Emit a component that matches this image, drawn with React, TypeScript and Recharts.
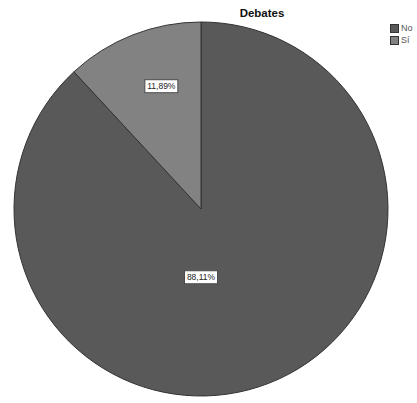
import { PieChart, Pie, Cell, Legend } from "recharts";

const categories = ["No", "Sí"];
const values = [88.11, 11.89];
const valueLabels = ["88,11%", "11,89%"];
const colors = ["#595959", "#828282"];

const data = categories.map((name, i) => ({ name, value: values[i], label: valueLabels[i] }));

const RADIAN = Math.PI / 180;

function renderLabel(props: any) {
  const { cx, cy, outerRadius, midAngle, index } = props;
  let x: number;
  let y: number;
  if (index === 0) {
    // big slice: label sits straight below the centre
    x = cx;
    y = cy + outerRadius * 0.365;
  } else {
    const r = outerRadius * 0.69;
    const a = (midAngle - 3.5) * RADIAN;
    x = cx + r * Math.cos(-a);
    y = cy + r * Math.sin(-a);
  }
  const w = 33;
  const h = 13;
  return (
    <g>
      <rect x={x - w / 2} y={y - h / 2} width={w} height={h} fill="#ffffff" stroke="#4a4a4a" strokeWidth={1} />
      <text x={x} y={y + 3} textAnchor="middle" fontSize={8.5} fontFamily="Liberation Sans, Arial, sans-serif" fill="#222">
        {data[index].label}
      </text>
    </g>
  );
}

function LegendBox() {
  return (
    <div style={{ fontFamily: "Liberation Sans, Arial, sans-serif", fontSize: 9 }}>
      {categories.map((c, i) => (
        <div key={c} style={{ display: "flex", alignItems: "center", height: 12 }}>
          <span style={{ width: 7, height: 7, background: colors[i], border: "1px solid #333", marginRight: 2, display: "inline-block" }} />
          <span style={{ color: "#555" }}>{c}</span>
        </div>
      ))}
    </div>
  );
}

export default function App() {
  return (
    <div style={{ position: "absolute", left: 0, top: 0, width: 417, height: 403, background: "#fff" }}>
      <PieChart width={417} height={403} margin={{ top: 0, right: 0, bottom: 0, left: 0 }}>
        <text x={262} y={17} textAnchor="middle" fontSize={11.5} fontWeight="bold" fontFamily="Liberation Sans, Arial, sans-serif" fill="#111">
          Debates
        </text>
        <Pie
          data={data}
          dataKey="value"
          nameKey="name"
          cx={201}
          cy={209}
          outerRadius={187}
          startAngle={90}
          endAngle={-270}
          stroke="#333"
          strokeWidth={1}
          label={renderLabel}
          labelLine={false}
          isAnimationActive={false}
        >
          {data.map((d, i) => (
            <Cell key={d.name} fill={colors[i]} />
          ))}
        </Pie>
        <Legend content={<LegendBox />} wrapperStyle={{ position: "absolute", left: 390, top: 22, width: 30 }} />
      </PieChart>
    </div>
  );
}
